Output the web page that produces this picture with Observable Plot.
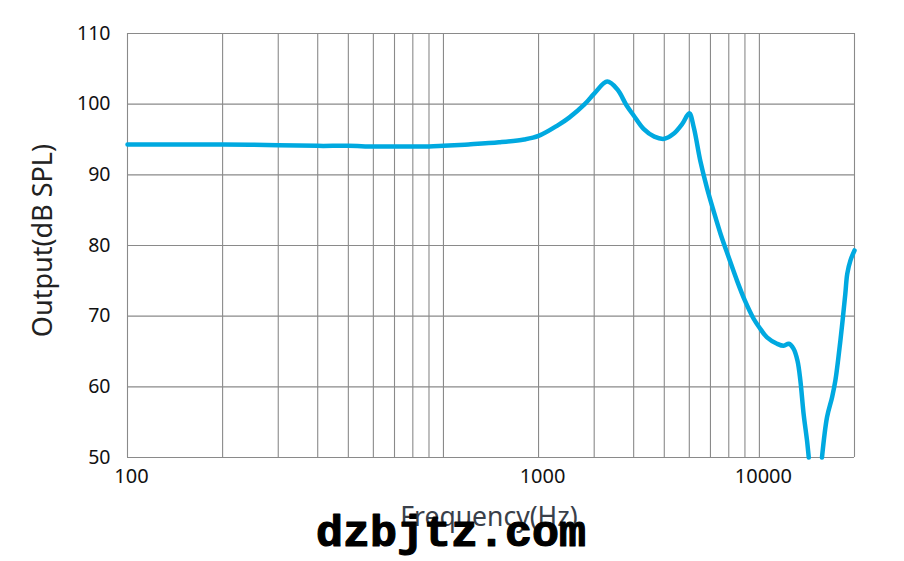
<!DOCTYPE html>
<html>
<head>
<meta charset="utf-8">
<script src="https://cdn.jsdelivr.net/npm/d3@7"></script>
<script src="https://cdn.jsdelivr.net/npm/@observablehq/plot@0.6"></script>
<style>
  html, body { margin: 0; padding: 0; background: #fff; }
  #chart svg { display: block; }
</style>
</head>
<body>
<div id="chart"></div>
<script>
// Frequency response data (Hz, dB SPL); NaN marks the part clipped below 50 dB
const freqHz = [100, 150, 200, 300, 400, 500, 600, 700, 800, 900, 1000, 1200, 1500, 1800, 2000, 2300, 2500, 2800, 3000, 3300, 3550, 3800, 4000, 4300, 4650, 5000, 5350, 5700, 6000, 6200, 6500, 6820, 7160, 7540, 8000, 8500, 9000, 9600, 10000, 10570, 11370, 11940, 12390, 12820, 13200, 13480, 13800, 14150, 14330, 15000, 15780, 16370, 16980, 17400, 18040, 18700, 18970, 19420, 20000];
const outputDb = [94.3, 94.3, 94.3, 94.2, 94.1, 94.1, 94.0, 94.0, 94.0, 94.0, 94.1, 94.3, 94.6, 95.0, 95.5, 97.0, 98.1, 100.0, 101.5, 103.2, 102.1, 99.8, 98.4, 96.5, 95.4, 95.1, 95.8, 97.2, 98.7, 96.7, 92.0, 88.2, 84.9, 81.6, 78.3, 75.0, 72.2, 69.6, 68.4, 67.0, 66.1, 65.8, 66.1, 65.4, 63.7, 60.9, 56.2, 52.4, 50.0, NaN, 50.0, 55.7, 58.5, 60.9, 66.5, 73.1, 76.0, 77.9, 79.3];

// Grid and axis ticks
const xGrid = [100, 200, 300, 400, 500, 600, 700, 800, 900, 1000, 2000, 3000, 4000, 5000, 6000, 7000, 8000, 9000, 10000, 20000];
const xTickPositions = [100, 2000, 10000];
const xTickLabels = ["100", "1000", "10000"];
const yTicks = [50, 60, 70, 80, 90, 100, 110];

const data = freqHz.map((f, i) => ({f, v: outputDb[i]}));
const xLabelOf = new Map(xTickPositions.map((p, i) => [p, xTickLabels[i]]));

const font = "'Noto Sans', 'Open Sans', sans-serif";

const chart = Plot.plot({
  width: 904,
  height: 561,
  marginLeft: 127,
  marginRight: 50,
  marginTop: 33,
  marginBottom: 104,
  style: {fontFamily: font, background: "#fff", color: "#111"},
  x: {type: "log", domain: [100, 20000]},
  y: {domain: [50, 110]},
  marks: [
    Plot.ruleX(xGrid, {stroke: "#8a8a8a", strokeWidth: 1.1}),
    Plot.ruleY(yTicks, {stroke: "#8a8a8a", strokeWidth: 1.1}),
    Plot.axisX({
      ticks: xTickPositions,
      tickFormat: (d) => xLabelOf.get(d),
      tickSize: 0, tickPadding: 11, fontSize: 20, dx: 4,
      label: null, fill: "#111"
    }),
    Plot.axisY({
      ticks: yTicks, tickSize: 0, tickPadding: 17, fontSize: 19.5,
      label: null, fill: "#111"
    }),
    Plot.line(data, {
      x: "f", y: "v", stroke: "#00a9e0", strokeWidth: 4.5,
      curve: "catmull-rom", strokeLinecap: "round", strokeLinejoin: "round"
    }),
    Plot.text(["Output(dB SPL)"], {
      frameAnchor: "left", textAnchor: "middle", lineAnchor: "middle",
      dx: -84, dy: -5, rotate: -90, fontSize: 27,
      fill: "#222", fontFamily: font
    }),
    Plot.text(["Frequency(Hz)"], {
      frameAnchor: "bottom", textAnchor: "middle", lineAnchor: "middle",
      dy: 60, dx: -2, fontSize: 26.5,
      fill: "#39404a", fontFamily: font
    }),
    Plot.text(["dzbjtz.com"], {
      frameAnchor: "bottom", textAnchor: "middle", lineAnchor: "middle",
      dy: 74, dx: -40, fontSize: 45, fontWeight: "bold",
      fill: "#000", stroke: "#000", strokeWidth: 1.2,
      fontFamily: "'Liberation Mono', 'DejaVu Sans Mono', monospace"
    })
  ]
});

document.getElementById("chart").appendChild(chart);
</script>
</body>
</html>
